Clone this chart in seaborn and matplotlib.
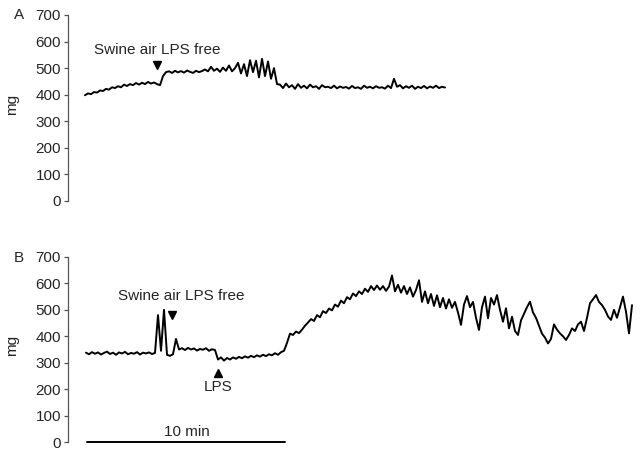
import numpy as np
import pandas as pd
import matplotlib
matplotlib.use("Agg")
import matplotlib.pyplot as plt
import seaborn as sns

# ---- data (mg), sampled every ~0.15 min ----
dt_min = 3 / 19.8
trace_a = [398, 405, 402, 410, 408, 416,
           414, 422, 419, 428, 425,
           432, 428, 438, 433, 440, 436, 444, 438, 445, 440,
           448, 442, 446, 440,
           436, 470, 485,
           488, 482, 490, 484, 489, 483, 491, 486, 482, 490, 485, 489,
           495, 488, 505, 490, 498, 486, 502, 490, 510, 488, 500,
           520, 480, 515, 470, 530, 485, 528, 465, 535, 470, 525, 460,
           500, 440,
           438, 425, 442, 428, 436, 422, 440, 426, 434, 424, 438, 428, 432, 422,
           436, 428, 430, 425, 434, 424, 431, 426, 429, 423, 433, 425, 428, 422,
           434, 426, 430, 424, 432, 426, 428, 423, 434, 425, 460, 430, 436, 424,
           432, 426, 434, 422, 430, 425, 433, 424, 431, 426, 434, 425, 430, 427]

trace_b = [338, 332, 340, 334, 339, 331, 337, 342, 333, 338, 330, 339,
           335, 341, 332, 337, 334, 340, 331, 338, 335, 339, 333, 337,
           480, 345, 500,
           330, 326, 332,
           390, 350,
           355, 348, 356, 350, 354, 346, 352, 349, 355, 345, 351, 348,
           312, 320, 308,
           318, 312, 320, 315, 322, 317, 324, 319, 326, 321, 328, 323, 330, 325,
           332, 328, 336, 330, 340,
           345, 375, 410, 405, 418, 412, 425, 440, 452, 465, 458, 480, 472, 495,
           488, 505, 498, 520, 512, 535, 525, 548, 540, 562, 552, 570, 560, 580,
           568, 590, 575, 592, 576, 590, 572, 588, 630, 570, 595, 565, 590, 560,
           585, 550, 575, 612, 530, 570, 525, 560, 515, 555, 510, 545, 505, 540,
           508, 530, 490, 443, 520, 552, 510, 530, 470, 424, 510, 550, 468, 545,
           520, 556, 500, 455, 506, 430, 474, 420, 405, 460, 485, 510, 531, 490,
           470, 440, 410, 395, 373, 390, 445, 425, 411, 400, 386, 405, 430, 420,
           445, 455, 420, 470, 525, 540, 556, 530, 518, 500, 475, 462, 500, 470,
           510, 550, 493, 411, 518]

y_ticks = [0, 100, 200, 300, 400, 500, 600, 700]
panel_labels = ["A", "B"]
annot_text = "Swine air LPS free"
scale_label = "10 min"
scale_len_min = 10

df_a = pd.DataFrame({"t": np.arange(len(trace_a)) * dt_min - 0.05, "mg": trace_a})
df_b = pd.DataFrame({"t": np.arange(len(trace_b)) * dt_min, "mg": trace_b})

sns.set_style("ticks")
plt.rcParams["font.family"] = ["Liberation Sans", "DejaVu Sans"]
txt_col = "#262626"
fs = 11

fig = plt.figure(figsize=(6.41, 4.55), dpi=100)
ax_a = fig.add_axes([68 / 641, 1 - 201 / 455, 567 / 641, 186 / 455])
ax_b = fig.add_axes([68 / 641, 1 - 442 / 455, 567 / 641, 185 / 455])

for ax, df, lab, ylab_y in [(ax_a, df_a, "A", 0.967), (ax_b, df_b, "B", 0.433)]:
    sns.lineplot(data=df, x="t", y="mg", ax=ax, color="black", lw=1.4)
    ax.set_xlim(-18 / 19.8, 549 / 19.8)
    ax.set_ylim(0, 700)
    ax.set_yticks(y_ticks)
    ax.tick_params(axis="y", length=3, width=0.9, pad=2, labelsize=fs,
                   colors="#555555", labelcolor=txt_col)
    ax.set_xticks([])
    ax.set_xlabel("")
    ax.set_ylabel("mg", fontsize=fs, color=txt_col)
    ax.yaxis.set_label_coords(-0.087, 0.52)
    sns.despine(ax=ax, bottom=True)
    ax.spines["left"].set_color("#555555")
    ax.spines["left"].set_linewidth(0.9)
    fig.text(19 / 641, ylab_y, lab, fontsize=fs, color=txt_col,
             ha="center", va="center")

# panel A annotations
ax_a.text(71 / 19.8, 568, annot_text, ha="center", va="center", fontsize=fs, color=txt_col)
ax_a.plot([71 / 19.8], [512], marker="v", color="black", ms=5.5, ls="none")

# panel B annotations
ax_b.text(95 / 19.8, 552, annot_text, ha="center", va="center", fontsize=fs, color=txt_col)
ax_b.plot([86 / 19.8], [481], marker="v", color="black", ms=5.5, ls="none")
ax_b.plot([132 / 19.8], [261], marker="^", color="black", ms=5.5, ls="none")
ax_b.text(132 / 19.8, 208, "LPS", ha="center", va="center", fontsize=fs, color=txt_col)

# scale bar
ax_b.plot([0.05, 0.05 + scale_len_min], [0, 0], color="black", lw=1.4, clip_on=False)
ax_b.text(101 / 19.8, 38, scale_label, ha="center", va="center", fontsize=fs, color=txt_col)

fig.savefig("out.png", dpi=100)
